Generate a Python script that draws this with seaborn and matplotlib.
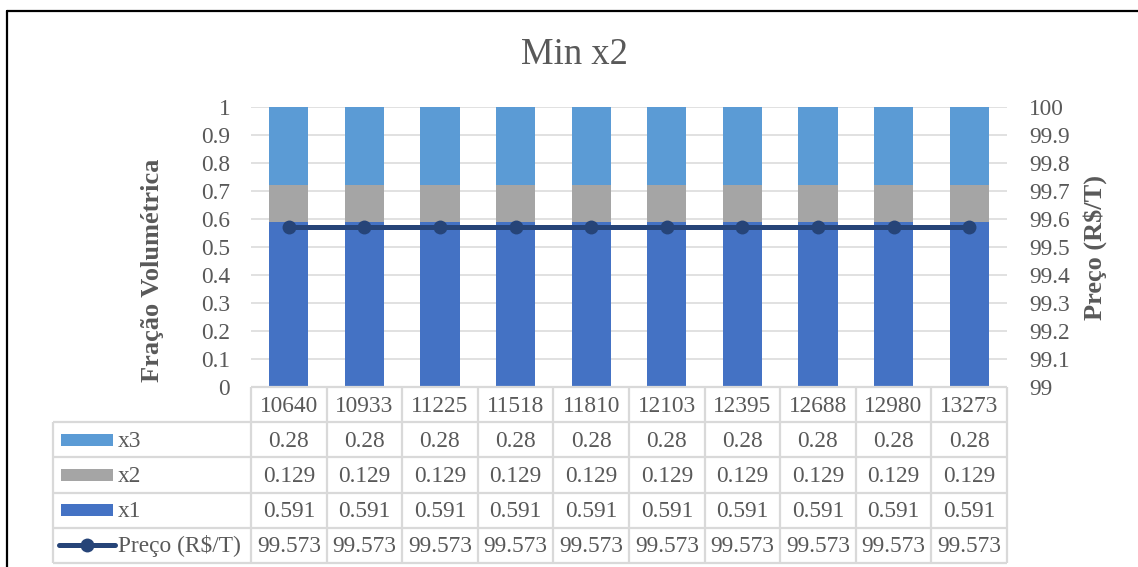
import numpy as np
import pandas as pd
import matplotlib
matplotlib.use("Agg")
import matplotlib.pyplot as plt
from matplotlib.lines import Line2D
from matplotlib.patches import Rectangle
from matplotlib.ticker import FuncFormatter
import seaborn as sns

# ---- data ----
categories = ["10640", "10933", "11225", "11518", "11810",
              "12103", "12395", "12688", "12980", "13273"]
x1 = [0.591, 0.591, 0.591, 0.591, 0.591, 0.591, 0.591, 0.591, 0.591, 0.591]
x2 = [0.129, 0.129, 0.129, 0.129, 0.129, 0.129, 0.129, 0.129, 0.129, 0.129]
x3 = [0.28, 0.28, 0.28, 0.28, 0.28, 0.28, 0.28, 0.28, 0.28, 0.28]
preco = [99.573, 99.573, 99.573, 99.573, 99.573,
         99.573, 99.573, 99.573, 99.573, 99.573]

title = "Min x2"
left_label = "Fração Volumétrica"
right_label = "Preço (R$/T)"

# ---- style ----
sns.set_style("white")
plt.rcParams["font.family"] = ["Liberation Serif", "DejaVu Serif"]

C_X1 = "#4472C4"
C_X2 = "#A5A5A5"
C_X3 = "#5B9BD5"
C_LINE = "#264478"
TXT = "#595959"
GRID = "#D9D9D9"
FS = 16.8

W, H = 1138, 567
fig = plt.figure(figsize=(W / 100, H / 100), dpi=100)


def fx(px):
    return px / W


def fy(py):
    return 1 - py / H


df = pd.DataFrame({"cat": categories, "x1": x1, "x2": x2, "x3": x3, "preco": preco})

# ---- stacked bars ----
ax = fig.add_axes([fx(251), fy(387), (1007 - 251) / W, (387 - 107) / H])
base2 = np.array(x1)
base3 = np.array(x1) + np.array(x2)
bar_kw = dict(width=0.52, saturation=1, errorbar=None, linewidth=0, ax=ax)
sns.barplot(data=df, x="cat", y="x1", color=C_X1, **bar_kw)
sns.barplot(data=df, x="cat", y="x2", color=C_X2, bottom=base2, **bar_kw)
sns.barplot(data=df, x="cat", y="x3", color=C_X3, bottom=base3, **bar_kw)

ax.set_ylim(0, 1)
ax.set_yticks(np.round(np.arange(0, 1.001, 0.1), 1))
ax.yaxis.set_major_formatter(FuncFormatter(lambda v, p: f"{round(v, 1):g}"))
ax.yaxis.grid(True, color=GRID, lw=1.1)
ax.xaxis.grid(False)
ax.set_axisbelow(True)
ax.tick_params(axis="y", length=0, pad=15, labelsize=FS, labelcolor=TXT)
ax.tick_params(axis="x", length=0, labelbottom=False)
ax.set_xlabel("")
ax.set_ylabel("")
for s in ax.spines.values():
    s.set_visible(False)

# ---- price line on secondary axis ----
ax2 = ax.twinx()
sns.lineplot(data=df, x="cat", y="preco", ax=ax2, color=C_LINE, lw=3.6,
             marker="o", markersize=10, markeredgecolor=C_LINE,
             markeredgewidth=0, legend=False)
ax2.set_ylim(99, 100)
ax2.set_yticks(np.round(np.arange(99, 100.001, 0.1), 1))
ax2.yaxis.set_major_formatter(FuncFormatter(lambda v, p: f"{round(v, 1):g}"))
ax2.tick_params(axis="y", length=0, pad=16, labelsize=FS, labelcolor=TXT)
ax2.set_xlabel("")
ax2.set_ylabel("")
ax2.grid(False)
for s in ax2.spines.values():
    s.set_visible(False)
ax.set_xlim(-0.5, len(categories) - 0.5)

# ---- data table ----
n = len(categories)
col_px = (1007 - 251) / n
xL = -0.5 - (251 - 53) / col_px


def xd(px):
    return -0.5 + (px - 251) / col_px


tab = fig.add_axes([fx(53), fy(563), (1007 - 53) / W, (563 - 387) / H])
tab.set_xlim(xL, n - 0.5)
tab.set_ylim(5, 0)
tab.axis("off")

line_kw = dict(color=GRID, lw=1.6, clip_on=False, solid_capstyle="butt")
tab.plot([-0.5, n - 0.5], [0, 0], **line_kw)
for r in range(1, 6):
    tab.plot([xL, n - 0.5], [r, r], **line_kw)
tab.plot([xL, xL], [1, 5], **line_kw)
for k in range(n + 1):
    tab.plot([k - 0.5, k - 0.5], [0, 5], **line_kw)

txt_kw = dict(fontsize=FS, color=TXT, va="baseline")
dy = 7 / 35.2
for i, c in enumerate(categories):
    tab.text(i, 0.5 + dy, c, ha="center", **txt_kw)

rows = [("x3", x3, C_X3), ("x2", x2, C_X2), ("x1", x1, C_X1)]
key_h = 12 / 35.2
for r, (name, vals, col) in enumerate(rows, start=1):
    tab.add_patch(Rectangle((xd(61), r + 0.5 - key_h / 2), xd(113) - xd(61), key_h,
                            facecolor=col, edgecolor="none", clip_on=False))
    tab.text(xd(118), r + 0.5 + dy, name, ha="left", **txt_kw)
    for i, v in enumerate(vals):
        tab.text(i, r + 0.5 + dy, f"{v:g}", ha="center", **txt_kw)

r = 4
tab.plot([xd(59), xd(115)], [r + 0.5, r + 0.5], color=C_LINE, lw=3.6,
         solid_capstyle="round", clip_on=False)
tab.plot([xd(87)], [r + 0.5], marker="o", markersize=10, color=C_LINE,
         markeredgewidth=0, clip_on=False)
tab.text(xd(118), r + 0.5 + dy, right_label, ha="left", **txt_kw)
for i, v in enumerate(preco):
    tab.text(i, r + 0.5 + dy, f"{v:g}", ha="center", **txt_kw)

# ---- titles ----
fig.text(fx(574.5), fy(64), title, ha="center", va="baseline",
         fontsize=26.4, color=TXT)
fig.text(fx(152), fy(270), left_label, rotation=90, ha="center", va="center",
         fontsize=19, fontweight="bold", color=TXT)
fig.text(fx(1095), fy(247), right_label, rotation=90, ha="center", va="center",
         fontsize=19, fontweight="bold", color=TXT)

# ---- frame ----
fig.add_artist(Line2D([fx(7), 1], [fy(11), fy(11)], color="black", lw=1.6))
fig.add_artist(Line2D([fx(7), fx(7)], [fy(11), 0], color="black", lw=1.6))

fig.savefig("out.png", dpi=100, facecolor="white")
